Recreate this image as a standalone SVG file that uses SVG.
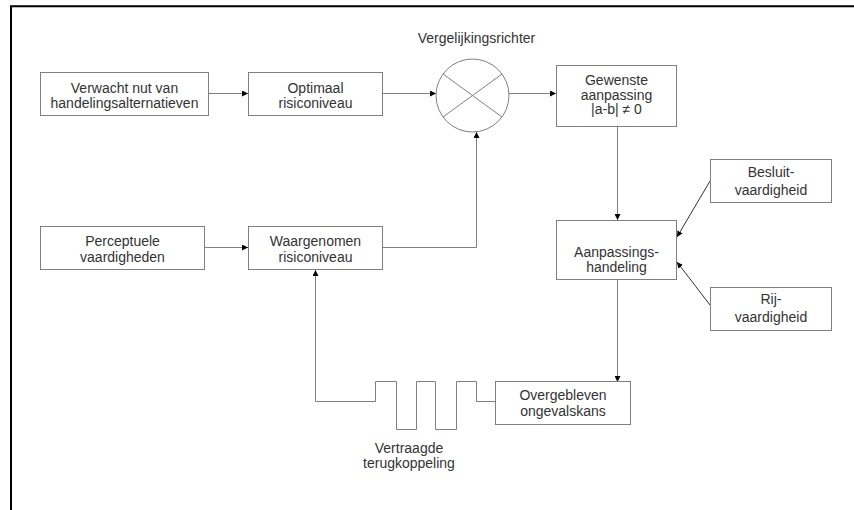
<svg xmlns="http://www.w3.org/2000/svg" width="854" height="510" viewBox="0 0 854 510">
  <style>
    .box { fill: #ffffff; stroke: #808080; stroke-width: 1; }
    .lbl { font-family: "Liberation Sans", Arial, sans-serif; font-size: 14px; fill: #333333; text-anchor: middle; }
    .wire { fill: none; stroke: #808080; stroke-width: 1; }
    .thin { fill: none; stroke: #333333; stroke-width: 1; }
    .frame { fill: none; stroke: #000000; stroke-width: 2; }
  </style>
  <defs>
    <marker id="arrow" markerUnits="userSpaceOnUse" markerWidth="6" markerHeight="6" refX="6" refY="3" orient="auto">
      <path d="M0,0 L6,3 L0,6 Z" fill="#000000"/>
    </marker>
  </defs>

  <rect width="854" height="510" fill="#ffffff"/>

  <!-- page frame (top and left edges) -->
  <path class="frame" d="M11,510 V6.3 H854"/>

  <!-- connectors -->
  <g id="connectors">
    <path class="wire" d="M208,93.5 H248" marker-end="url(#arrow)"/>
    <path class="wire" d="M382,93.5 H436" marker-end="url(#arrow)"/>
    <path class="wire" d="M509,93.5 H556" marker-end="url(#arrow)"/>
    <path class="wire" d="M204,247.5 H248" marker-end="url(#arrow)"/>
    <path class="wire" d="M382,247.5 H476.5 V132" marker-end="url(#arrow)"/>
    <path class="wire" d="M617.5,127 V220" marker-end="url(#arrow)"/>
    <path class="thin" d="M710,181 L677,237" marker-end="url(#arrow)"/>
    <path class="thin" d="M710,305 L677,262" marker-end="url(#arrow)"/>
    <path class="wire" d="M617.5,280 V382" marker-end="url(#arrow)"/>
    <!-- delayed feedback loop with square-wave delay element -->
    <path class="wire" d="M495,401.5 H476.5 V381.5 H456.5 V429.5 H435.5 V381.5 H416.5 V429.5 H396.5 V381.5 H375.5 V401.5 H315.5 V270" marker-end="url(#arrow)"/>
  </g>

  <g id="verwacht-nut">
    <rect class="box" x="40.5" y="72.5" width="168" height="43"/>
    <text class="lbl" x="124.5" y="93">Verwacht nut van</text>
    <text class="lbl" x="124.5" y="107.5">handelingsalternatieven</text>
  </g>

  <g id="optimaal-risiconiveau">
    <rect class="box" x="248.5" y="72.5" width="134" height="43"/>
    <text class="lbl" x="315.5" y="93">Optimaal</text>
    <text class="lbl" x="315.5" y="107.5">risiconiveau</text>
  </g>

  <g id="vergelijkingsrichter">
    <text class="lbl" x="476.5" y="43">Vergelijkingsrichter</text>
    <circle class="wire" cx="472.5" cy="95.5" r="36.5"/>
    <path class="wire" d="M443,74 L502,117 M502,74 L443,117"/>
  </g>

  <g id="gewenste-aanpassing">
    <rect class="box" x="556.5" y="65.5" width="120" height="61"/>
    <text class="lbl" x="616.5" y="85">Gewenste</text>
    <text class="lbl" x="616.5" y="99.5">aanpassing</text>
    <text class="lbl" x="616.5" y="114">|a-b| ≠ 0</text>
  </g>

  <g id="perceptuele-vaardigheden">
    <rect class="box" x="40.5" y="226.5" width="164" height="43"/>
    <text class="lbl" x="122.5" y="246">Perceptuele</text>
    <text class="lbl" x="122.5" y="261.5">vaardigheden</text>
  </g>

  <g id="waargenomen-risiconiveau">
    <rect class="box" x="248.5" y="226.5" width="134" height="43"/>
    <text class="lbl" x="315.5" y="246">Waargenomen</text>
    <text class="lbl" x="315.5" y="261.5">risiconiveau</text>
  </g>

  <g id="aanpassingshandeling">
    <rect class="box" x="556.5" y="220.5" width="120" height="59"/>
    <text class="lbl" x="616.5" y="257">Aanpassings-</text>
    <text class="lbl" x="616.5" y="272">handeling</text>
  </g>

  <g id="besluitvaardigheid">
    <rect class="box" x="710.5" y="159.5" width="121" height="43"/>
    <text class="lbl" x="771" y="177">Besluit-</text>
    <text class="lbl" x="771" y="195">vaardigheid</text>
  </g>

  <g id="rijvaardigheid">
    <rect class="box" x="710.5" y="287.5" width="121" height="43"/>
    <text class="lbl" x="771" y="304">Rij-</text>
    <text class="lbl" x="771" y="322">vaardigheid</text>
  </g>

  <g id="overgebleven-ongevalskans">
    <rect class="box" x="495.5" y="381.5" width="135" height="43"/>
    <text class="lbl" x="563" y="400">Overgebleven</text>
    <text class="lbl" x="563" y="416">ongevalskans</text>
  </g>

  <g id="vertraagde-terugkoppeling">
    <text class="lbl" x="409" y="453">Vertraagde</text>
    <text class="lbl" x="409" y="468">terugkoppeling</text>
  </g>
</svg>
